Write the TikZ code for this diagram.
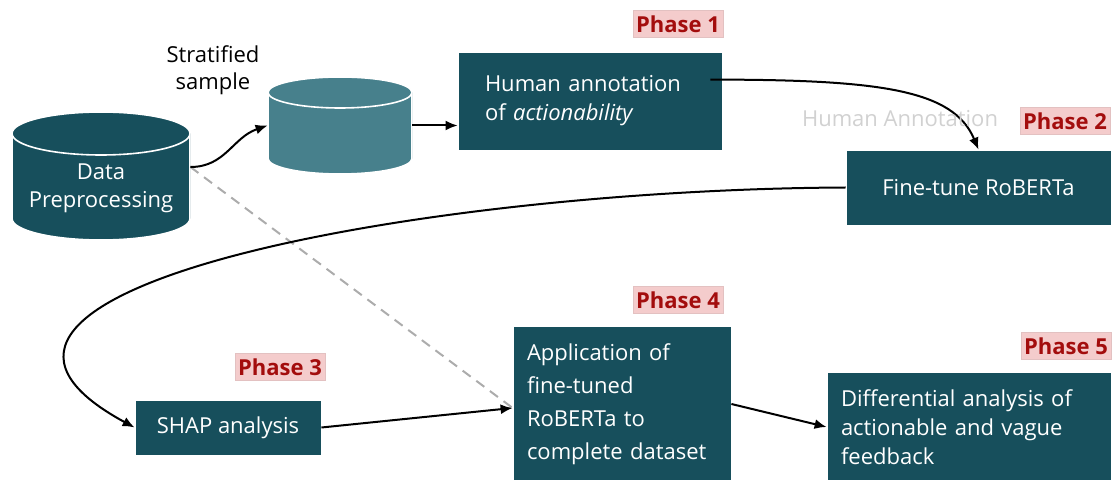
\documentclass[tikz,border=0pt]{standalone}
\usepackage{fontspec}
\setmainfont{Open Sans}
\usetikzlibrary{arrows.meta,calc}
\definecolor{boxteal}{HTML}{174F5C}
\definecolor{cylteal}{HTML}{47808C}
\definecolor{phasefill}{HTML}{F4CCCC}
\definecolor{phasered}{HTML}{A30D0D}

\begin{document}
\begin{tikzpicture}[x=0.5pt,y=-0.5pt,
    stagebox/.style={draw=white, line width=0.4pt, fill=boxteal, text=white,
        font=\fontsize{11}{14.5}\selectfont, inner sep=0pt},
    phasetag/.style={fill=phasefill, draw=phasefill!85!gray, line width=0.3pt, text=phasered,
        font=\fontsize{11}{13}\selectfont\bfseries, inner xsep=1.5pt, inner ysep=2.5pt},
    db/.style 2 args={rectangle, inner sep=0pt, text=white, align=center,
        font=\fontsize{11}{14}\selectfont,
        path picture={
            \draw[fill=#1, draw=white, line width=0.8pt]
                let \p1=(path picture bounding box.north west),
                    \p2=(path picture bounding box.south east),
                    \n1={(\x2-\x1)/2} in
                (\x1,\y1-#2) -- (\x1,\y2+#2)
                arc[start angle=180, end angle=360, x radius=\n1, y radius=#2]
                -- (\x2,\y1-#2)
                arc[start angle=0, end angle=180, x radius=\n1, y radius=#2] -- cycle
                (\x1,\y1-#2)
                arc[start angle=180, end angle=360, x radius=\n1, y radius=#2];
        }},
    flow/.style={-{Latex[length=6pt,width=5pt]}, line width=1pt}]

    % fester Rahmen wie im Original
    \useasboundingbox (0,0) rectangle (1113,480);

    % --- Datenbanken ---
    \node[db={boxteal}{10.75pt}, minimum width=89pt, minimum height=64pt]
        (dp) at (101,176) {\rule{0pt}{20pt}Data\\Preprocessing};
    \node[db={cylteal}{7.75pt}, minimum width=72pt, minimum height=48.5pt]
        (ss) at (340,125.5) {};
    \node[align=center, font=\fontsize{11}{13.5}\selectfont] (sslbl) at (213,70) {Stratified\\sample};

    % --- Phasen-Boxen ---
    \node[stagebox, minimum width=132pt, minimum height=49pt, text width=105pt, align=left]
        (ha) at (590,101) {Human annotation\\of \textit{actionability}};
    \node[stagebox, minimum width=132.5pt, minimum height=37.5pt, align=center]
        (ft) at (978.5,187.5) {Fine-tune RoBERTa};
    \node[stagebox, minimum width=93pt, minimum height=27.5pt, align=center]
        (shap) at (228,427.5) {SHAP analysis};
    \node[stagebox, minimum width=109pt, minimum height=78pt, text width=95pt, align=left,
        font=\fontsize{11}{16.5}\selectfont]
        (app) at (622,404) {Application of\\fine-tuned\\RoBERTa to\\complete dataset};
    \node[stagebox, minimum width=142pt, minimum height=55pt, text width=128pt, align=left]
        (diff) at (969,427) {Differential analysis of\\actionable and vague\\feedback};

    % --- Phasen-Marken ---
    \node[phasetag] (ph1) at (678,24) {Phase 1};
    \node[phasetag] (ph2) at (1065,121) {Phase 2};
    \node[phasetag] (ph3) at (280,367) {Phase 3};
    \node[phasetag] (ph4) at (678,300) {Phase 4};
    \node[phasetag] (ph5) at (1066,346) {Phase 5};

    % --- Verbindungen ---
    \draw[gray!65, line width=1pt, dash pattern=on 5pt off 3.5pt]
        ([yshift=4.5pt]dp.east) -- ([yshift=-2pt]app.west);
    \draw[flow] ([yshift=4.5pt]dp.east) .. controls +(35,0) and +(-35,12) .. (ss.west);
    \draw[flow] (ss.east) -- (ss.east -| ha.west);
    \draw[flow] ($(ha.north east)+(-12,28)$) .. controls +(170,0) and +(-25,-60) .. (ft.north);
    \node[text=black!18, font=\fontsize{11}{13}\selectfont] (hlbl) at (900,119) {Human Annotation};
    \draw[flow] (ft.west) .. controls +(-426,2) and +(-255,-138) .. (shap.west);
    \draw[flow] (shap.east) -- ([yshift=-2pt]app.west);
    \draw[flow] (app.east) -- (diff.west);

\end{tikzpicture}
\end{document}
